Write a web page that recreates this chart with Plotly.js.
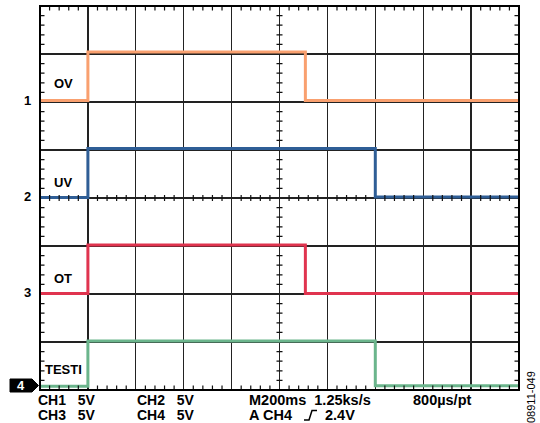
<!DOCTYPE html>
<html>
<head>
<meta charset="utf-8">
<script src="https://cdn.plot.ly/plotly-3.0.1.min.js"></script>
<style>html,body{margin:0;padding:0;background:#fff;}#chart{width:540px;height:423px;}</style>
</head>
<body>
<div id="chart"></div>
<script>
// Time axis in divisions (10 div across), voltage axis in divisions (8 div, 0 at bottom)
const channelNames = ["OV", "UV", "OT", "TESTI"];
const channelColors = ["#F9A06F", "#2F5E96", "#E0344F", "#6BB58C"];
const ovTime = [0, 1.0, 5.54, 10];
const ovLevel = [6.03, 7.04, 6.03, 6.03];
const uvTime = [0, 1.0, 7.0, 10];
const uvLevel = [4.01, 5.03, 4.02, 4.02];
const otTime = [0, 1.0, 5.54, 10];
const otLevel = [2.01, 3.02, 2.01, 2.01];
const testiTime = [0, 1.0, 7.0, 10];
const testiLevel = [0.08, 1.02, 0.09, 0.09];
const groundLevels = [6.0, 4.0, 2.0, 0.1];
const groundLabels = ["1", "2", "3", "4"];
const nameLabelY = [6.38, 4.32, 2.32, 0.42];
const infoRow1 = ["CH1\u00a0\u00a0\u00a05V", "CH2\u00a0\u00a0\u00a05V", "M200ms\u00a0\u00a01.25ks/s", "800µs/pt"];
const infoRow2 = ["CH3\u00a0\u00a0\u00a05V", "CH4\u00a0\u00a0\u00a05V", "A CH4", "2.4V"];
const figureId = "08911-049";

const W = 540, H = 423;
const M = {l: 40, r: 21, t: 6, b: 33};
const PW = W - M.l - M.r, PH = H - M.t - M.b;
const XR = [0, 10], YR = [0, 8];
const px = x => (x - M.l) / PW;           // pixel x -> paper
const py = y => (H - M.b - y) / PH;        // pixel y -> paper
const dxPix = (XR[1] - XR[0]) / PW;        // data per pixel
const dyPix = (YR[1] - YR[0]) / PH;

const series = [[ovTime, ovLevel], [uvTime, uvLevel], [otTime, otLevel], [testiTime, testiLevel]];
const traces = series.map((s, i) => ({
  type: "scatter", mode: "lines", x: s[0], y: s[1],
  line: {color: channelColors[i], width: 3, shape: "hv"},
  hoverinfo: "skip", showlegend: false
}));

function tickPath() {
  let p = "";
  const L = 4.5, C = 3;
  for (let k = 0; k <= 50; k++) {
    const x = k * 0.2;
    if (k % 5 === 0) continue;
    p += `M${x},${YR[1]}L${x},${YR[1] - L * dyPix}`;
    p += `M${x},${YR[0]}L${x},${YR[0] + L * dyPix}`;
    p += `M${x},${4 - C * dyPix}L${x},${4 + C * dyPix}`;
  }
  for (let k = 0; k <= 40; k++) {
    const y = k * 0.2;
    if (k % 5 === 0) continue;
    p += `M${XR[0]},${y}L${XR[0] + L * dxPix},${y}`;
    p += `M${XR[1]},${y}L${XR[1] - L * dxPix},${y}`;
    p += `M${5 - C * dxPix},${y}L${5 + C * dxPix},${y}`;
  }
  return p;
}

const shapes = [
  {type: "path", xref: "x", yref: "y", path: tickPath(), line: {color: "#111", width: 1.2}, layer: "above"},
  {type: "rect", xref: "paper", yref: "paper", x0: 0, x1: 1, y0: 0, y1: 1, line: {color: "#000", width: 2}, layer: "above"},
  {type: "path", xref: "paper", yref: "paper",
   path: `M${px(10)},${py(379)}L${px(32)},${py(379)}L${px(38.5)},${py(385.5)}L${px(32)},${py(392)}L${px(10)},${py(392)}Z`,
   fillcolor: "#000", line: {color: "#000", width: 1}, layer: "above"},
  {type: "path", xref: "paper", yref: "paper",
   path: `M${px(304)},${py(420)}L${px(309)},${py(420)}L${px(312)},${py(410.5)}L${px(317)},${py(410.5)}`,
   line: {color: "#000", width: 1.5}, layer: "above"}
];

const F = "Liberation Sans, Arial, sans-serif";
const annotations = [];
channelNames.forEach((n, i) => annotations.push({
  xref: "x", yref: "y", x: 0.49, y: nameLabelY[i], text: "<b>" + n + "</b>", showarrow: false,
  font: {family: F, size: 13, color: "#000"}, xanchor: "center", yanchor: "middle"
}));
groundLabels.slice(0, 3).forEach((g, i) => annotations.push({
  xref: "paper", yref: "y", x: px(33), y: groundLevels[i], yshift: 2, text: "<b>" + g + "</b>", showarrow: false,
  font: {family: F, size: 13, color: "#000"}, xanchor: "right", yanchor: "middle"
}));
annotations.push({xref: "paper", yref: "paper", x: px(21), y: py(385.5), text: "<b>" + groundLabels[3] + "</b>",
  showarrow: false, font: {family: F, size: 13, color: "#fff"}, xanchor: "center", yanchor: "middle"});
const rowX1 = [38, 137, 249, 413];
const rowX2 = [38, 137, 249, 325];
const rowSize = [14, 14, 14.5, 14.5];
infoRow1.forEach((t, i) => annotations.push({xref: "paper", yref: "paper", x: px(rowX1[i]), y: py(399.5), text: "<b>" + t + "</b>",
  showarrow: false, font: {family: F, size: rowSize[i], color: "#000"}, xanchor: "left", yanchor: "middle", xshift: -2}));
infoRow2.forEach((t, i) => annotations.push({xref: "paper", yref: "paper", x: px(rowX2[i]), y: py(415), text: "<b>" + t + "</b>",
  showarrow: false, font: {family: F, size: rowSize[i], color: "#000"}, xanchor: "left", yanchor: "middle", xshift: -2}));
annotations.push({xref: "paper", yref: "paper", x: px(531), y: py(397), text: figureId, textangle: -90,
  showarrow: false, font: {family: F, size: 11, color: "#000"}, xanchor: "center", yanchor: "middle"});

const axisCommon = {showgrid: true, gridcolor: "#222", gridwidth: 1.3, zeroline: false, showticklabels: false,
  ticks: "", showline: false, fixedrange: true, tick0: 0, dtick: 1};
const layout = {
  width: W, height: H, margin: M, paper_bgcolor: "#fff", plot_bgcolor: "#fff",
  xaxis: Object.assign({range: XR}, axisCommon),
  yaxis: Object.assign({range: YR}, axisCommon),
  shapes: shapes, annotations: annotations, showlegend: false
};
Plotly.newPlot("chart", traces, layout, {displayModeBar: false, staticPlot: true});
</script>
</body>
</html>
